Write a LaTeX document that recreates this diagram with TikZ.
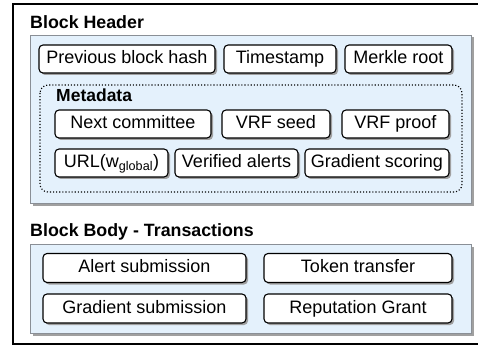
\documentclass[tikz,border=0pt]{standalone}
\usepackage{fontspec}
\setmainfont{Liberation Sans}
\usetikzlibrary{shadows}
\definecolor{panelblue}{HTML}{E4F1FC}
\definecolor{panelline}{HTML}{8A8F96}
\definecolor{shadowgray}{HTML}{A0A0A0}
\tikzset{
  item/.style={draw=black, line width=1.1pt, fill=white, rounded corners=4pt,
    minimum height=28pt, inner sep=0pt, text height=13pt, text depth=3.5pt,
    font=\fontsize{18}{21}\selectfont,
    general shadow={fill=shadowgray, shadow xshift=2pt, shadow yshift=-2pt}},
  panel/.style={draw=panelline, line width=0.8pt, fill=panelblue,
    general shadow={fill=shadowgray, shadow xshift=2.5pt, shadow yshift=-2.5pt}},
  ttl/.style={anchor=base west, inner sep=0pt, font=\fontsize{17.8}{20}\selectfont\bfseries},
}
\begin{document}
\begin{tikzpicture}[x=1pt, y=-1pt]
\useasboundingbox (0,0) rectangle (478,347);
\clip (0,0) rectangle (478,347);
\fill[white] (0,0) rectangle (478,347);
\draw[line width=1.6pt] (13,4) rectangle (495,344);
% titles
\node[ttl] (hdrtitle) at (30,29) {Block Header};
\node[ttl] (bodytitle) at (30,236) {Block Body - Transactions};
% panels
\draw[panel] (30,35) rectangle (471,203);
\draw[panel] (30,244) rectangle (471,333);
% row 1
\node[item, minimum width=176pt] (prev) at (127,59) {Previous block hash};
\node[item, minimum width=112pt] (ts) at (280,59) {Timestamp};
\node[item, minimum width=107pt] (merkle) at (398.5,59) {Merkle root};
% metadata
\draw[line width=1.1pt, dotted, rounded corners=8pt] (40,85) rectangle (462,192);
\node[ttl, font=\fontsize{17.5}{20}\selectfont\bfseries] (meta) at (56,102) {Metadata};
\node[item, minimum width=156pt] (next) at (133,124) {Next committee};
\node[item, minimum width=108pt] (seed) at (276,124) {VRF seed};
\node[item, minimum width=107pt] (proof) at (395.5,124) {VRF proof};
\node[item, minimum width=113pt] (url) at (111.5,163) {URL(w\textsubscript{global})};
\node[item, minimum width=123pt] (valerts) at (236.5,163) {Verified alerts};
\node[item, minimum width=144pt] (gscore) at (377,163) {Gradient scoring};
% body
\node[item, minimum width=203pt, minimum height=29pt] (alert) at (144.5,268) {Alert submission};
\node[item, minimum width=188pt, minimum height=29pt] (token) at (358,268) {Token transfer};
\node[item, minimum width=203pt, minimum height=29pt] (gsub) at (144.5,308.5) {Gradient submission};
\node[item, minimum width=188pt, minimum height=29pt] (rep) at (358,308.5) {Reputation Grant};
\end{tikzpicture}
\end{document}
